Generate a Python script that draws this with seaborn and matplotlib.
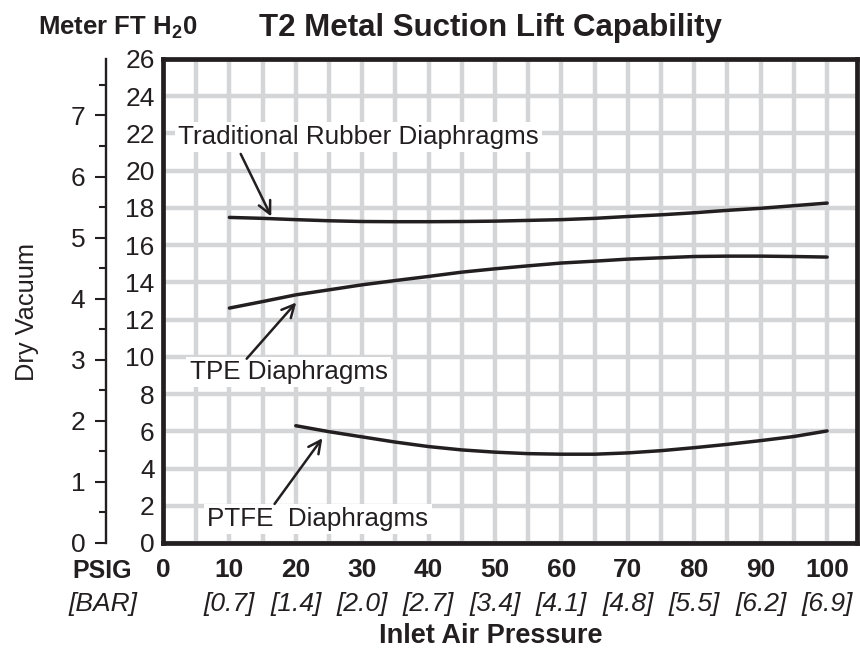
import numpy as np
import pandas as pd
import seaborn as sns
import matplotlib.pyplot as plt
from matplotlib.ticker import MultipleLocator

# values (feet of water vs inlet psig)
psig = [10, 15, 20, 25, 30, 35, 40, 45, 50, 55, 60, 65, 70, 75, 80, 85, 90, 95, 100]
rubber = [17.49, 17.44, 17.37, 17.31, 17.27, 17.26, 17.26, 17.27, 17.29, 17.33, 17.37,
          17.44, 17.54, 17.63, 17.74, 17.87, 17.98, 18.12, 18.26]
tpe = [12.62, 12.97, 13.33, 13.6, 13.87, 14.1, 14.32, 14.55, 14.73, 14.89, 15.04,
       15.14, 15.25, 15.32, 15.39, 15.41, 15.41, 15.39, 15.36]
ptfe_psig = [20, 25, 30, 35, 40, 45, 50, 55, 60, 65, 70, 75, 80, 85, 90, 95, 100]
ptfe = [6.3, 5.98, 5.7, 5.42, 5.18, 5.0, 4.88, 4.8, 4.77, 4.77, 4.84, 4.96, 5.12,
        5.3, 5.5, 5.72, 6.02]

psig_ticks = [0, 10, 20, 30, 40, 50, 60, 70, 80, 90, 100]
bar_ticks = [10, 20, 30, 40, 50, 60, 70, 80, 90, 100]
bar_labels = ['[0.7]', '[1.4]', '[2.0]', '[2.7]', '[3.4]', '[4.1]', '[4.8]', '[5.5]', '[6.2]', '[6.9]']
ft_ticks = list(range(0, 27, 2))
m_ticks = list(range(0, 8))

df = pd.concat([
    pd.DataFrame({'psig': psig, 'ft': rubber, 'kind': 'rubber'}),
    pd.DataFrame({'psig': psig, 'ft': tpe, 'kind': 'tpe'}),
    pd.DataFrame({'psig': ptfe_psig, 'ft': ptfe, 'kind': 'ptfe'}),
])

sns.set_theme(style='white')
plt.rcParams['font.family'] = ['Liberation Sans', 'DejaVu Sans']
plt.rcParams['mathtext.fontset'] = 'custom'
plt.rcParams['mathtext.rm'] = 'Liberation Sans:bold'
plt.rcParams['mathtext.it'] = 'Liberation Sans:bold'
plt.rcParams['mathtext.bf'] = 'Liberation Sans:bold'

ink = '#231f20'
fs = 19

fig = plt.figure(figsize=(8.6, 6.5), dpi=100)
ax = fig.add_axes([163 / 860, 107 / 650, 694 / 860, 484 / 650])

sns.lineplot(data=df, x='psig', y='ft', hue='kind', units='kind', estimator=None,
             palette={'rubber': ink, 'tpe': ink, 'ptfe': ink}, lw=2.5,
             legend=False, ax=ax, zorder=3)

ax.set_xlim(0, 104.5)
ax.set_ylim(0, 26)
ax.xaxis.set_minor_locator(MultipleLocator(5))
ax.set_xticks(psig_ticks)
ax.set_yticks(ft_ticks)
ax.grid(True, which='both', color='#d4d5d7', lw=3.2)
ax.set_axisbelow(True)
for s in ax.spines.values():
    s.set_color(ink)
    s.set_linewidth(3.4)
ax.tick_params(axis='both', which='both', length=0)
ax.tick_params(axis='x', pad=11, labelsize=fs, labelcolor=ink)
ax.tick_params(axis='y', pad=6, labelsize=fs, labelcolor=ink)
for lab in ax.get_xticklabels():
    lab.set_fontweight('bold')
ax.set_xlabel('')
ax.set_ylabel('')

tr = ax.get_xaxis_transform()
for x, lab in zip(bar_ticks, bar_labels):
    ax.text(x, -0.125, lab, transform=tr, ha='center', va='center',
            fontsize=fs, style='italic', color=ink)

# meter scale on the far left
axm = fig.add_axes([106 / 860, 107 / 650, 0.001, 484 / 650])
axm.set_ylim(0, 26 / 3.28084)
axm.set_xticks([])
axm.set_yticks(m_ticks)
axm.yaxis.set_minor_locator(MultipleLocator(0.5))
for k in ['top', 'right', 'bottom']:
    axm.spines[k].set_visible(False)
axm.spines['left'].set_linewidth(1.7)
axm.spines['left'].set_color(ink)
axm.patch.set_alpha(0)
axm.tick_params(axis='y', which='major', direction='out', length=8, width=1.5,
                color=ink, labelsize=fs, labelcolor=ink, pad=7, left=True)
axm.tick_params(axis='y', which='minor', direction='out', length=5, width=1.5,
                color=ink, left=True)

# annotations
afs = 18.7
box = dict(boxstyle='square,pad=0.12', fc='white', ec='none')
arrow = dict(arrowstyle='->,head_length=0.5,head_width=0.25', lw=1.8, color=ink,
             mutation_scale=18, shrinkA=0, shrinkB=0)
ax.text(2.3, 21.45, 'Traditional Rubber Diaphragms', fontsize=afs, color=ink,
        va='baseline', bbox=box, zorder=4)
ax.text(4.0, 8.8, 'TPE Diaphragms', fontsize=afs, color=ink, va='baseline', bbox=box, zorder=4)
ax.text(6.7, 0.9, 'PTFE  Diaphragms', fontsize=afs, color=ink, va='baseline', bbox=box, zorder=4)
ax.annotate('', xy=(16.3, 17.54), xytext=(11.7, 20.9), arrowprops=arrow, zorder=5)
ax.annotate('', xy=(20.06, 12.92), xytext=(12.6, 9.9), arrowprops=arrow, zorder=5)
ax.annotate('', xy=(24.0, 5.63), xytext=(16.8, 2.1), arrowprops=arrow, zorder=5)

# titles and axis captions
fig.text(490 / 860, 1 - 28 / 650, 'T2 Metal Suction Lift Capability', ha='center', va='center',
         fontsize=22.5, fontweight='bold', color=ink)
fig.text(38 / 860, 1 - 28 / 650, 'Meter FT H$_2$0', ha='left', va='center',
         fontsize=18.5, fontweight='bold', color=ink)
fig.text(27 / 860, 1 - 312 / 650, 'Dry Vacuum', rotation=90, ha='center', va='center',
         fontsize=18.3, color=ink)
fig.text(102 / 860, 1 - 571 / 650, 'PSIG', ha='center', va='center',
         fontsize=18, fontweight='bold', color=ink)
fig.text(103 / 860, 1 - 604 / 650, '[BAR]', ha='center', va='center',
         fontsize=19, style='italic', color=ink)
fig.text(491 / 860, 1 - 636 / 650, 'Inlet Air Pressure', ha='center', va='center',
         fontsize=19.5, fontweight='bold', color=ink)

fig.savefig('out.png', dpi=100)
